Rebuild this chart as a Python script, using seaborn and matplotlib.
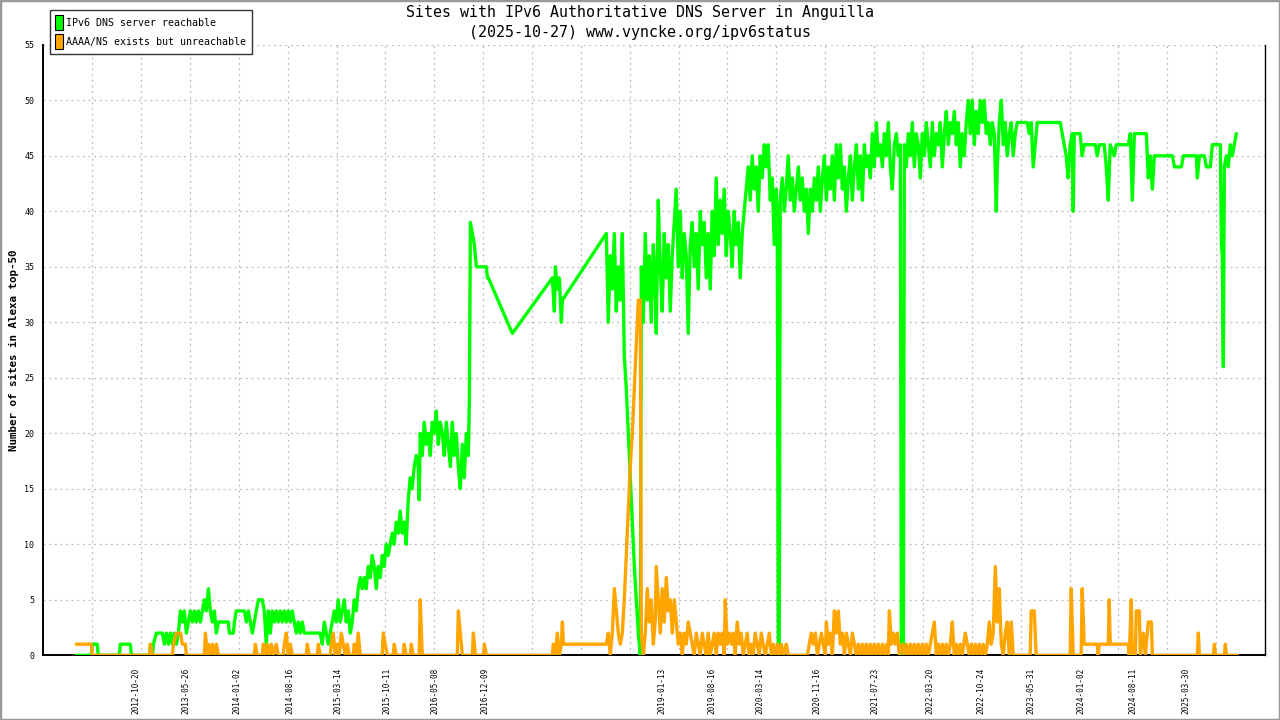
import numpy as np
import pandas as pd
import matplotlib
matplotlib.use("Agg")
import matplotlib.pyplot as plt
import matplotlib.dates as mdates
from matplotlib.patches import Patch, Rectangle
import seaborn as sns

# Dates are decimal years, values are number of sites
green_years = [
    2012.094, 2012.272, 2012.284, 2012.343, 2012.355, 2012.604, 2012.616, 2012.734, 2012.746, 2012.959,
    2012.971, 2012.995, 2013.007, 2013.042, 2013.113, 2013.137, 2013.161, 2013.185, 2013.208, 2013.232,
    2013.256, 2013.279, 2013.303, 2013.327, 2013.350, 2013.374, 2013.398, 2013.421, 2013.445, 2013.469,
    2013.493, 2013.516, 2013.540, 2013.564, 2013.588, 2013.611, 2013.635, 2013.659, 2013.682, 2013.706,
    2013.730, 2013.753, 2013.777, 2013.896, 2013.907, 2013.955, 2013.967, 2013.990, 2014.085, 2014.109,
    2014.132, 2014.156, 2014.180, 2014.203, 2014.227, 2014.251, 2014.298, 2014.322, 2014.345, 2014.369,
    2014.393, 2014.416, 2014.440, 2014.464, 2014.487, 2014.511, 2014.535, 2014.559, 2014.582, 2014.606,
    2014.630, 2014.653, 2014.677, 2014.701, 2014.725, 2014.748, 2014.772, 2014.796, 2014.985, 2015.009,
    2015.033, 2015.056, 2015.080, 2015.104, 2015.127, 2015.151, 2015.175, 2015.198, 2015.222, 2015.246,
    2015.270, 2015.293, 2015.317, 2015.341, 2015.364, 2015.388, 2015.412, 2015.435, 2015.459, 2015.483,
    2015.506, 2015.530, 2015.554, 2015.578, 2015.601, 2015.625, 2015.649, 2015.672, 2015.696, 2015.720,
    2015.744, 2015.767, 2015.791, 2015.815, 2015.838, 2015.862, 2015.886, 2015.909, 2015.933, 2015.957,
    2015.980, 2016.004, 2016.028, 2016.052, 2016.075, 2016.099, 2016.123, 2016.146, 2016.158, 2016.170,
    2016.194, 2016.218, 2016.241, 2016.265, 2016.289, 2016.312, 2016.336, 2016.360, 2016.383, 2016.407,
    2016.431, 2016.454, 2016.478, 2016.502, 2016.526, 2016.549, 2016.573, 2016.597, 2016.620, 2016.644,
    2016.668, 2016.691, 2016.715, 2016.739, 2016.751, 2016.763, 2016.786, 2016.810, 2016.834, 2016.952,
    2016.964, 2016.976, 2017.260, 2017.734, 2017.758, 2017.770, 2017.793, 2017.817, 2017.841, 2017.853,
    2018.374, 2018.397, 2018.421, 2018.445, 2018.469, 2018.492, 2018.516, 2018.540, 2018.564, 2018.587,
    2018.611, 2018.635, 2018.658, 2018.682, 2018.706, 2018.729, 2018.753, 2018.777, 2018.789, 2018.812,
    2018.836, 2018.860, 2018.883, 2018.907, 2018.931, 2018.954, 2018.966, 2018.990, 2019.014, 2019.037,
    2019.061, 2019.085, 2019.109, 2019.132, 2019.156, 2019.180, 2019.203, 2019.227, 2019.251, 2019.274,
    2019.298, 2019.322, 2019.345, 2019.369, 2019.393, 2019.416, 2019.440, 2019.464, 2019.488, 2019.511,
    2019.535, 2019.559, 2019.582, 2019.606, 2019.630, 2019.654, 2019.677, 2019.701, 2019.725, 2019.748,
    2019.772, 2019.796, 2019.819, 2019.843, 2019.867, 2019.890, 2019.914, 2019.938, 2019.962, 2019.985,
    2020.009, 2020.033, 2020.056, 2020.080, 2020.104, 2020.127, 2020.151, 2020.175, 2020.198, 2020.222,
    2020.246, 2020.269, 2020.293, 2020.317, 2020.340, 2020.364, 2020.388, 2020.400, 2020.412, 2020.423,
    2020.435, 2020.459, 2020.483, 2020.506, 2020.530, 2020.554, 2020.577, 2020.601, 2020.625, 2020.649,
    2020.672, 2020.696, 2020.720, 2020.743, 2020.767, 2020.791, 2020.814, 2020.838, 2020.862, 2020.885,
    2020.909, 2020.933, 2020.957, 2020.980, 2021.004, 2021.028, 2021.051, 2021.075, 2021.099, 2021.122,
    2021.146, 2021.170, 2021.194, 2021.217, 2021.241, 2021.265, 2021.288, 2021.312, 2021.336, 2021.359,
    2021.383, 2021.407, 2021.431, 2021.454, 2021.478, 2021.502, 2021.525, 2021.549, 2021.573, 2021.596,
    2021.620, 2021.644, 2021.668, 2021.691, 2021.715, 2021.739, 2021.762, 2021.786, 2021.810, 2021.833,
    2021.857, 2021.869, 2021.893, 2021.905, 2021.928, 2021.952, 2021.976, 2021.999, 2022.023, 2022.047,
    2022.070, 2022.094, 2022.118, 2022.142, 2022.165, 2022.189, 2022.213, 2022.237, 2022.260, 2022.284,
    2022.308, 2022.331, 2022.355, 2022.379, 2022.402, 2022.426, 2022.450, 2022.473, 2022.497, 2022.521,
    2022.544, 2022.568, 2022.592, 2022.615, 2022.639, 2022.663, 2022.687, 2022.710, 2022.734, 2022.757,
    2022.781, 2022.805, 2022.829, 2022.852, 2022.876, 2022.900, 2022.924, 2022.947, 2022.971, 2022.995,
    2023.007, 2023.030, 2023.054, 2023.078, 2023.101, 2023.125, 2023.149, 2023.172, 2023.196, 2023.220,
    2023.243, 2023.362, 2023.385, 2023.409, 2023.433, 2023.456, 2023.480, 2023.753, 2023.776, 2023.800,
    2023.824, 2023.847, 2023.871, 2023.895, 2023.907, 2023.919, 2023.990, 2024.013, 2024.037, 2024.167,
    2024.191, 2024.215, 2024.274, 2024.298, 2024.322, 2024.345, 2024.393, 2024.416, 2024.558, 2024.582,
    2024.606, 2024.630, 2024.772, 2024.795, 2024.819, 2024.843, 2024.867, 2025.080, 2025.104, 2025.187,
    2025.210, 2025.364, 2025.376, 2025.400, 2025.459, 2025.483, 2025.530, 2025.554, 2025.649, 2025.661,
    2025.672, 2025.684, 2025.696, 2025.720, 2025.743, 2025.767, 2025.791, 2025.814, 2025.838,
]
green_sites = [
    0, 0, 1, 1, 0, 0, 1, 1, 0, 0,
    1, 0, 1, 2, 2, 1, 2, 1, 2, 1,
    2, 1, 2, 4, 3, 4, 2, 3, 4, 3,
    4, 3, 4, 3, 4, 5, 4, 6, 4, 3,
    4, 2, 3, 3, 2, 2, 3, 4, 4, 3,
    4, 3, 2, 3, 4, 5, 5, 4, 1, 4,
    2, 4, 3, 4, 3, 4, 3, 4, 3, 4,
    3, 4, 3, 2, 3, 2, 3, 2, 2, 1,
    3, 2, 1, 2, 3, 4, 3, 5, 3, 4,
    5, 3, 4, 2, 3, 5, 4, 6, 7, 6,
    7, 6, 8, 7, 9, 8, 6, 8, 7, 9,
    8, 10, 9, 10, 11, 10, 12, 11, 13, 11,
    12, 10, 14, 16, 15, 17, 18, 17, 14, 20,
    18, 21, 19, 20, 18, 21, 20, 22, 19, 21,
    20, 18, 21, 19, 17, 21, 18, 20, 17, 15,
    19, 16, 20, 18, 23, 39, 38, 37, 35, 35,
    34, 34, 29, 34, 31, 35, 33, 34, 30, 32,
    38, 30, 36, 33, 38, 31, 35, 32, 38, 27,
    24, 20, 16, 12, 8, 5, 2, 0, 35, 30,
    38, 32, 36, 30, 37, 33, 29, 41, 35, 31,
    38, 34, 37, 31, 36, 39, 42, 35, 40, 34,
    38, 36, 29, 37, 39, 35, 38, 33, 40, 37,
    39, 34, 38, 33, 40, 36, 43, 37, 41, 38,
    42, 36, 40, 38, 35, 40, 37, 39, 34, 38,
    40, 42, 44, 41, 45, 42, 44, 40, 45, 43,
    46, 44, 46, 41, 43, 37, 42, 39, 0, 0,
    41, 43, 40, 42, 45, 41, 43, 40, 42, 44,
    41, 43, 40, 42, 38, 42, 40, 43, 41, 44,
    40, 43, 45, 41, 44, 42, 45, 41, 46, 43,
    46, 42, 44, 40, 43, 45, 41, 44, 46, 42,
    45, 41, 46, 44, 45, 43, 47, 44, 48, 45,
    46, 44, 47, 45, 48, 44, 42, 46, 47, 45,
    46, 0, 0, 46, 44, 47, 45, 48, 44, 47,
    46, 43, 47, 45, 48, 46, 44, 48, 45, 47,
    46, 48, 44, 47, 49, 46, 48, 47, 49, 46,
    48, 44, 47, 45, 48, 50, 47, 50, 46, 49,
    47, 50, 48, 50, 47, 48, 46, 48, 47, 40,
    44, 48, 50, 46, 48, 45, 47, 48, 45, 47,
    48, 48, 47, 48, 44, 46, 48, 48, 47, 46,
    45, 43, 46, 47, 40, 47, 47, 45, 46, 46,
    45, 46, 46, 44, 41, 46, 45, 46, 46, 47,
    41, 47, 47, 43, 45, 42, 45, 45, 44, 44,
    45, 45, 43, 45, 45, 44, 44, 46, 46, 37,
    36, 26, 44, 45, 44, 46, 45, 46, 47,
]

orange_years = [
    2012.094, 2012.272, 2012.284, 2012.959, 2012.971, 2012.995, 2013.232, 2013.244, 2013.279, 2013.327,
    2013.350, 2013.386, 2013.398, 2013.611, 2013.623, 2013.647, 2013.659, 2013.682, 2013.706, 2013.730,
    2013.753, 2013.777, 2014.203, 2014.215, 2014.239, 2014.298, 2014.310, 2014.334, 2014.357, 2014.381,
    2014.405, 2014.428, 2014.464, 2014.487, 2014.547, 2014.559, 2014.582, 2014.606, 2014.630, 2014.653,
    2014.819, 2014.831, 2014.855, 2014.950, 2014.962, 2014.985, 2015.104, 2015.116, 2015.139, 2015.163,
    2015.187, 2015.210, 2015.234, 2015.258, 2015.282, 2015.305, 2015.329, 2015.376, 2015.388, 2015.412,
    2015.435, 2015.459, 2015.720, 2015.732, 2015.755, 2015.779, 2015.850, 2015.862, 2015.886, 2015.969,
    2015.980, 2016.004, 2016.052, 2016.064, 2016.087, 2016.158, 2016.170, 2016.194, 2016.608, 2016.620,
    2016.644, 2016.668, 2016.786, 2016.798, 2016.822, 2016.917, 2016.929, 2016.952, 2017.734, 2017.746,
    2017.770, 2017.793, 2017.817, 2017.841, 2017.853, 2017.865, 2018.374, 2018.397, 2018.421, 2018.445,
    2018.469, 2018.492, 2018.516, 2018.540, 2018.564, 2018.587, 2018.611, 2018.635, 2018.658, 2018.682,
    2018.706, 2018.729, 2018.753, 2018.777, 2018.789, 2018.812, 2018.836, 2018.860, 2018.883, 2018.907,
    2018.931, 2018.954, 2018.966, 2018.990, 2019.014, 2019.037, 2019.061, 2019.085, 2019.109, 2019.132,
    2019.156, 2019.180, 2019.203, 2019.227, 2019.251, 2019.274, 2019.298, 2019.322, 2019.345, 2019.369,
    2019.393, 2019.416, 2019.440, 2019.464, 2019.488, 2019.511, 2019.535, 2019.559, 2019.582, 2019.606,
    2019.630, 2019.654, 2019.677, 2019.701, 2019.725, 2019.748, 2019.772, 2019.784, 2019.807, 2019.831,
    2019.855, 2019.879, 2019.902, 2019.926, 2019.950, 2019.973, 2019.997, 2020.021, 2020.045, 2020.068,
    2020.092, 2020.116, 2020.139, 2020.163, 2020.187, 2020.210, 2020.234, 2020.258, 2020.281, 2020.305,
    2020.329, 2020.352, 2020.376, 2020.400, 2020.423, 2020.447, 2020.471, 2020.506, 2020.530, 2020.755,
    2020.779, 2020.802, 2020.826, 2020.850, 2020.874, 2020.897, 2020.921, 2020.945, 2020.968, 2020.980,
    2021.004, 2021.028, 2021.051, 2021.075, 2021.099, 2021.122, 2021.146, 2021.170, 2021.194, 2021.217,
    2021.241, 2021.265, 2021.288, 2021.312, 2021.336, 2021.359, 2021.383, 2021.407, 2021.431, 2021.454,
    2021.478, 2021.502, 2021.525, 2021.549, 2021.573, 2021.596, 2021.620, 2021.644, 2021.668, 2021.691,
    2021.715, 2021.727, 2021.751, 2021.774, 2021.798, 2021.822, 2021.845, 2021.881, 2021.905, 2021.928,
    2021.952, 2021.976, 2021.999, 2022.023, 2022.047, 2022.070, 2022.094, 2022.118, 2022.142, 2022.165,
    2022.189, 2022.213, 2022.237, 2022.260, 2022.284, 2022.308, 2022.331, 2022.355, 2022.379, 2022.402,
    2022.426, 2022.450, 2022.473, 2022.497, 2022.521, 2022.544, 2022.568, 2022.592, 2022.627, 2022.651,
    2022.675, 2022.698, 2022.722, 2022.746, 2022.769, 2022.793, 2022.817, 2022.840, 2022.864, 2022.888,
    2022.912, 2022.935, 2022.959, 2022.983, 2023.007, 2023.030, 2023.054, 2023.078, 2023.101, 2023.125,
    2023.149, 2023.172, 2023.196, 2023.397, 2023.409, 2023.445, 2023.468, 2023.871, 2023.883, 2023.907,
    2024.001, 2024.013, 2024.037, 2024.191, 2024.203, 2024.215, 2024.322, 2024.333, 2024.345, 2024.558,
    2024.570, 2024.594, 2024.606, 2024.641, 2024.653, 2024.689, 2024.701, 2024.736, 2024.760, 2024.795,
    2024.831, 2024.843, 2025.376, 2025.388, 2025.400, 2025.566, 2025.578, 2025.590, 2025.696, 2025.708,
    2025.720, 2025.850,
]
orange_sites = [
    1, 1, 0, 0, 1, 0, 0, 1, 2, 2,
    1, 1, 0, 0, 2, 0, 1, 0, 1, 0,
    1, 0, 0, 1, 0, 0, 1, 0, 1, 0,
    1, 0, 1, 0, 0, 1, 2, 0, 1, 0,
    0, 1, 0, 0, 1, 0, 0, 1, 2, 0,
    1, 0, 2, 1, 0, 1, 0, 0, 1, 0,
    2, 0, 0, 2, 1, 0, 0, 1, 0, 0,
    1, 0, 0, 1, 0, 0, 5, 0, 0, 4,
    2, 0, 0, 2, 0, 0, 1, 0, 0, 1,
    0, 2, 0, 1, 3, 1, 1, 2, 0, 2,
    6, 4, 2, 1, 2, 5, 9, 13, 17, 20,
    24, 28, 32, 32, 2, 0, 2, 6, 3, 5,
    1, 3, 8, 5, 2, 6, 3, 7, 4, 5,
    2, 5, 3, 1, 2, 0, 2, 1, 3, 2,
    1, 0, 2, 1, 0, 2, 1, 0, 2, 0,
    1, 2, 0, 2, 1, 2, 0, 5, 1, 2,
    1, 2, 0, 3, 1, 2, 0, 1, 2, 0,
    1, 0, 2, 1, 0, 2, 1, 0, 1, 2,
    0, 1, 0, 1, 0, 1, 0, 1, 0, 0,
    1, 2, 1, 2, 0, 1, 2, 1, 0, 3,
    1, 2, 0, 4, 2, 4, 1, 2, 0, 2,
    1, 0, 2, 1, 0, 1, 0, 1, 0, 1,
    0, 1, 0, 1, 0, 1, 0, 1, 0, 1,
    0, 4, 1, 2, 1, 2, 0, 1, 0, 1,
    0, 1, 0, 1, 0, 1, 0, 1, 0, 1,
    0, 1, 2, 3, 0, 1, 0, 1, 0, 1,
    0, 1, 3, 0, 1, 0, 1, 0, 2, 1,
    0, 1, 0, 1, 0, 1, 0, 1, 0, 1,
    3, 1, 2, 8, 3, 6, 1, 0, 2, 3,
    0, 3, 0, 0, 4, 4, 0, 0, 6, 0,
    0, 6, 1, 1, 0, 1, 1, 5, 1, 1,
    0, 5, 0, 0, 4, 4, 0, 2, 0, 3,
    3, 0, 0, 2, 0, 0, 1, 0, 0, 1,
    0, 0,
]

tick_dates = [
    "2012-10-20", "2013-05-26", "2014-01-02", "2014-08-16", "2015-03-14", "2015-10-11",
    "2016-05-08", "2016-12-09", "2019-01-13", "2019-08-16", "2020-03-14", "2020-11-16",
    "2021-07-23", "2022-03-20", "2022-10-24", "2023-05-31", "2024-01-02", "2024-08-11",
    "2025-03-30",
]

GREEN = "#00ff00"
ORANGE = "#ffa500"


def year_to_date(y):
    yr = int(y)
    start = pd.Timestamp(year=yr, month=1, day=1)
    ndays = (pd.Timestamp(year=yr + 1, month=1, day=1) - start).days
    return start + pd.Timedelta(days=(y - yr) * ndays)


df_green = pd.DataFrame({"date": [year_to_date(v) for v in green_years], "sites": green_sites})
df_orange = pd.DataFrame({"date": [year_to_date(v) for v in orange_years], "sites": orange_sites})

sns.set_style("white")
plt.rcParams["font.family"] = ["DejaVu Sans Mono", "DejaVu Sans"]
plt.rcParams["text.color"] = "black"
plt.rcParams["axes.labelcolor"] = "black"
plt.rcParams["xtick.color"] = "black"
plt.rcParams["ytick.color"] = "black"

fig = plt.figure(figsize=(12.8, 7.2), dpi=100)
ax = fig.add_axes([43.3 / 1280, 1 - 655.3 / 720, (1265 - 43.3) / 1280, (655.3 - 44.8) / 720])

sns.lineplot(data=df_green, x="date", y="sites", ax=ax, color=GREEN, linewidth=2.4,
             estimator=None, sort=False, zorder=3)
sns.lineplot(data=df_orange, x="date", y="sites", ax=ax, color=ORANGE, linewidth=2.4,
             estimator=None, sort=False, zorder=4)

x0 = mdates.date2num(pd.Timestamp("2011-09-15"))
x1 = mdates.date2num(pd.Timestamp("2026-03-07"))
ax.set_xlim(x0, x1)
ax.set_ylim(0, 55)

# regular tick marks + vertical grid, date labels placed separately
ax.set_xticks(np.linspace(x0, x1, 26), minor=True)
ax.set_xticks(mdates.datestr2num(tick_dates))
ax.set_xticklabels(tick_dates, rotation=90, fontsize=5.5, va="top", ha="center")
ax.tick_params(axis="x", which="major", length=0, pad=9)
ax.tick_params(axis="x", which="minor", length=5, width=1, direction="out", color="black")
ax.set_yticks(range(0, 56, 5))
ax.tick_params(axis="y", length=7, width=1, direction="inout", labelsize=6, pad=3)

grid_kw = dict(color="#bbbbbb", linestyle=(0, (1.5, 3)), linewidth=0.9, zorder=0)
ax.grid(False)
for xv in np.linspace(x0, x1, 26)[1:-1]:
    ax.axvline(xv, **grid_kw)
for yv in range(5, 56, 5):
    ax.axhline(yv, **grid_kw)

for side in ["left", "bottom"]:
    ax.spines[side].set_linewidth(1.4)
    ax.spines[side].set_color("black")
ax.spines["right"].set_linewidth(1.0)
ax.spines["right"].set_color("black")
ax.spines["top"].set_visible(False)

ax.set_xlabel("")
ax.set_ylabel("Number of sites in Alexa top-50", fontsize=7.8, fontweight="bold", labelpad=4)

fig.text(0.5, 1 - 13 / 720, "Sites with IPv6 Authoritative DNS Server in Anguilla",
         ha="center", va="center", fontsize=10.8)
fig.text(0.5, 1 - 32 / 720, "(2025-10-27) www.vyncke.org/ipv6status",
         ha="center", va="center", fontsize=10.8)

handles = [
    Patch(facecolor=GREEN, edgecolor="black", linewidth=0.8, label="IPv6 DNS server reachable"),
    Patch(facecolor=ORANGE, edgecolor="black", linewidth=0.8, label="AAAA/NS exists but unreachable"),
]
leg = fig.legend(handles=handles, loc="upper left", bbox_to_anchor=(50 / 1280, 1 - 10 / 720),
                 frameon=True, fancybox=False, fontsize=7.2, handlelength=0.8, handleheight=1.9,
                 handletextpad=0.35, borderpad=0.5, labelspacing=0.45, borderaxespad=0)
leg.get_frame().set_edgecolor("black")
leg.get_frame().set_linewidth(1.0)

fig.patches.append(Rectangle((0, 0), 1, 1, transform=fig.transFigure, fill=False,
                             edgecolor="#999999", linewidth=2.5))

fig.savefig("out.png", dpi=100)
